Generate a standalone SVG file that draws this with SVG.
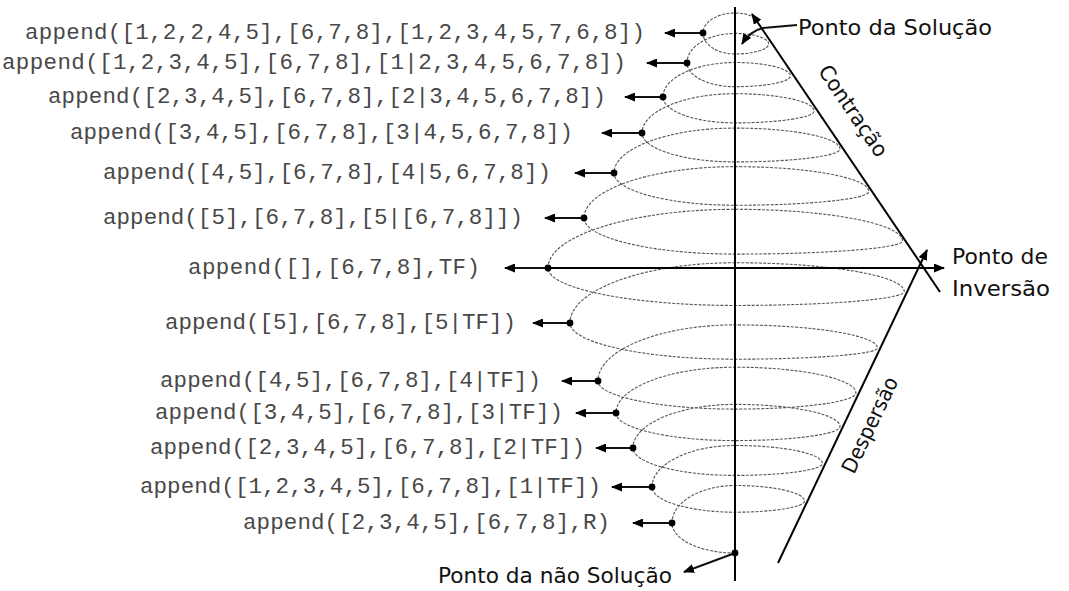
<svg xmlns="http://www.w3.org/2000/svg" width="1069" height="591" viewBox="0 0 1069 591">
<style>
.code{font-family:"Liberation Mono","DejaVu Sans Mono",monospace;font-size:22.5px;fill:#484848}
.lbl{font-family:"DejaVu Sans","Liberation Sans",sans-serif;font-size:21px;fill:#111}
.ax{stroke:#000;stroke-width:2;fill:none}
.arr{stroke:#111;stroke-width:2;fill:none;marker-end:url(#ah)}
.sp{stroke:#555;stroke-width:1.1;fill:none;stroke-dasharray:3 1.4}
.dot{fill:#000}
</style>
<defs>
<marker id="ah" markerUnits="userSpaceOnUse" markerWidth="11" markerHeight="9" refX="10" refY="4.5" orient="auto">
<path d="M0,0 L11,4.5 L0,9 z" fill="#000"/>
</marker>
</defs>
<rect width="1069" height="591" fill="#fff"/>

<g id="spiral">
<path class="sp" d="M735,553 C700.4,553 672,539.5 672,523
C672,502.4 700.4,485.5 735,485.5 C773.2,485.5 804.5,492.5 804.5,501 C804.5,507.2 773.2,512.2 735,512.2 C689.4,512.2 652,500.9 652,487
C652,464.2 689.4,445.5 735,445.5 C783.1,445.5 822.4,453.6 822.4,463.5 C822.4,470 783.1,475.4 735,475.4 C678.9,475.4 633,463.1 633,448
C633,424 678.9,404.4 735,404.4 C792.8,404.4 840,414.3 840,426.5 C840,434.3 792.8,440.6 735,440.6 C669.6,440.6 616,428.2 616,413
C616,387.8 669.6,367.2 735,367.2 C801.5,367.2 855.9,378.8 855.9,393 C855.9,401.9 801.5,409.1 735,409.1 C659.7,409.1 598,396.5 598,381
C598,350.1 659.7,324.9 735,324.9 C813.3,324.9 877.4,335.3 877.4,348 C877.4,354.2 813.3,359.2 735,359.2 C644.3,359.2 570,342.9 570,323
C570,289.9 644.3,262.75 735,262.75 C828.1,262.75 904.2,275.7 904.2,291.5 C904.2,299.2 828.1,305.45 735,305.45 C632.2,305.45 548,288.6 548,268
C548,235.7 632.2,209.3 735,209.3 C827.1,209.3 902.5,223.6 902.5,241 C902.5,248.2 827.1,254.1 735,254.1 C652,254.1 584,237.9 584,218
C584,189.8 652,166.65 735,166.65 C808.6,166.65 868.8,177.8 868.8,191.5 C868.8,199.1 808.6,205.25 735,205.25 C668.5,205.25 614,190.7 614,173
C614,148.3 668.5,128.1 735,128.1 C792.8,128.1 840,137.5 840,149 C840,156.1 792.8,161.9 735,161.9 C683.9,161.9 642,148.9 642,133
C642,111.4 683.9,93.7 735,93.7 C778.6,93.7 814.2,101.5 814.2,111 C814.2,117.5 778.6,122.9 735,122.9 C695.4,122.9 663,111.2 663,97
C663,78 695.4,62.5 735,62.5 C765.5,62.5 790.4,68.6 790.4,76 C790.4,81.9 765.5,86.7 735,86.7 C708.6,86.7 687,76 687,63
C687,46.7 708.6,33.4 735,33.4 C753.5,33.4 768.7,38.2 768.7,44 C768.7,49.5 753.5,54 735,54 C717.4,54 703,44.6 703,33
C703,22 717.4,13 735,13 Q746,13 753,17"/>
</g>

<g id="axes">
<line class="ax" x1="735" y1="7" x2="735" y2="581"/>
<line class="ax" x1="940" y1="292" x2="752" y2="14" marker-end="url(#ah)"/>
<line class="ax" x1="778" y1="563" x2="927" y2="250" marker-end="url(#ah)"/>
<line class="ax" x1="548" y1="268" x2="944" y2="268" marker-end="url(#ah)"/>
</g>

<g id="connectors">
<path class="arr" d="M797,25 L763,28 Q750,31 742,44"/>
<line class="arr" x1="703" y1="33" x2="665" y2="33"/>
<line class="arr" x1="687" y1="63" x2="647" y2="63"/>
<line class="arr" x1="663" y1="97" x2="625" y2="97"/>
<line class="arr" x1="642" y1="133" x2="602" y2="133"/>
<line class="arr" x1="614" y1="173" x2="575" y2="173"/>
<line class="arr" x1="584" y1="218" x2="545" y2="218"/>
<line class="arr" x1="548" y1="268" x2="505" y2="268"/>
<line class="arr" x1="570" y1="323" x2="533" y2="323"/>
<line class="arr" x1="598" y1="381" x2="562" y2="381"/>
<line class="arr" x1="616" y1="413" x2="576" y2="413"/>
<line class="arr" x1="633" y1="448" x2="596" y2="448"/>
<line class="arr" x1="652" y1="487" x2="612" y2="487"/>
<line class="arr" x1="672" y1="523" x2="633" y2="523"/>
<line class="arr" x1="735" y1="553" x2="684" y2="572"/>
</g>

<g id="dots">
<circle class="dot" cx="703" cy="33" r="3.4"/>
<circle class="dot" cx="687" cy="63" r="3.4"/>
<circle class="dot" cx="663" cy="97" r="3.4"/>
<circle class="dot" cx="642" cy="133" r="3.4"/>
<circle class="dot" cx="614" cy="173" r="3.4"/>
<circle class="dot" cx="584" cy="218" r="3.4"/>
<circle class="dot" cx="548" cy="268" r="3.4"/>
<circle class="dot" cx="570" cy="323" r="3.4"/>
<circle class="dot" cx="598" cy="381" r="3.4"/>
<circle class="dot" cx="616" cy="413" r="3.4"/>
<circle class="dot" cx="633" cy="448" r="3.4"/>
<circle class="dot" cx="652" cy="487" r="3.4"/>
<circle class="dot" cx="672" cy="523" r="3.4"/>
<circle class="dot" cx="735" cy="553" r="3.4"/>
</g>

<g id="n1"><text class="code" x="25" y="39" textLength="620" lengthAdjust="spacing">append([1,2,2,4,5],[6,7,8],[1,2,3,4,5,7,6,8])</text></g>
<g id="n2"><text class="code" x="2" y="69" textLength="624" lengthAdjust="spacing">append([1,2,3,4,5],[6,7,8],[1|2,3,4,5,6,7,8])</text></g>
<g id="n3"><text class="code" x="48" y="103" textLength="558" lengthAdjust="spacing">append([2,3,4,5],[6,7,8],[2|3,4,5,6,7,8])</text></g>
<g id="n4"><text class="code" x="70" y="139" textLength="503" lengthAdjust="spacing">append([3,4,5],[6,7,8],[3|4,5,6,7,8])</text></g>
<g id="n5"><text class="code" x="103" y="179" textLength="448" lengthAdjust="spacing">append([4,5],[6,7,8],[4|5,6,7,8])</text></g>
<g id="n6"><text class="code" x="103" y="224" textLength="420" lengthAdjust="spacing">append([5],[6,7,8],[5|[6,7,8]])</text></g>
<g id="n7"><text class="code" x="188" y="274" textLength="292" lengthAdjust="spacing">append([],[6,7,8],TF)</text></g>
<g id="n8"><text class="code" x="165" y="329" textLength="351" lengthAdjust="spacing">append([5],[6,7,8],[5|TF])</text></g>
<g id="n9"><text class="code" x="160" y="387" textLength="381" lengthAdjust="spacing">append([4,5],[6,7,8],[4|TF])</text></g>
<g id="n10"><text class="code" x="155" y="419" textLength="408" lengthAdjust="spacing">append([3,4,5],[6,7,8],[3|TF])</text></g>
<g id="n11"><text class="code" x="150" y="454" textLength="435" lengthAdjust="spacing">append([2,3,4,5],[6,7,8],[2|TF])</text></g>
<g id="n12"><text class="code" x="140" y="493" textLength="461" lengthAdjust="spacing">append([1,2,3,4,5],[6,7,8],[1|TF])</text></g>
<g id="n13"><text class="code" x="243" y="529" textLength="367" lengthAdjust="spacing">append([2,3,4,5],[6,7,8],R)</text></g>

<g id="ponto-solucao"><text class="lbl" x="798" y="35" textLength="194" lengthAdjust="spacingAndGlyphs">Ponto da Solução</text></g>
<g id="ponto-inversao">
<text class="lbl" x="952" y="264" textLength="96" lengthAdjust="spacingAndGlyphs">Ponto de</text>
<text class="lbl" x="952" y="296" textLength="98" lengthAdjust="spacingAndGlyphs">Inversão</text>
</g>
<g id="ponto-nao-solucao"><text class="lbl" x="438" y="583" textLength="234" lengthAdjust="spacingAndGlyphs">Ponto da não Solução</text></g>
<g id="contracao"><text class="lbl" transform="translate(853,111) rotate(55.8)" x="0" y="7" text-anchor="middle" textLength="106" lengthAdjust="spacingAndGlyphs">Contração</text></g>
<g id="despersao"><text class="lbl" transform="translate(870,425) rotate(-64.5)" x="0" y="7" text-anchor="middle" textLength="104" lengthAdjust="spacingAndGlyphs">Despersão</text></g>
</svg>
